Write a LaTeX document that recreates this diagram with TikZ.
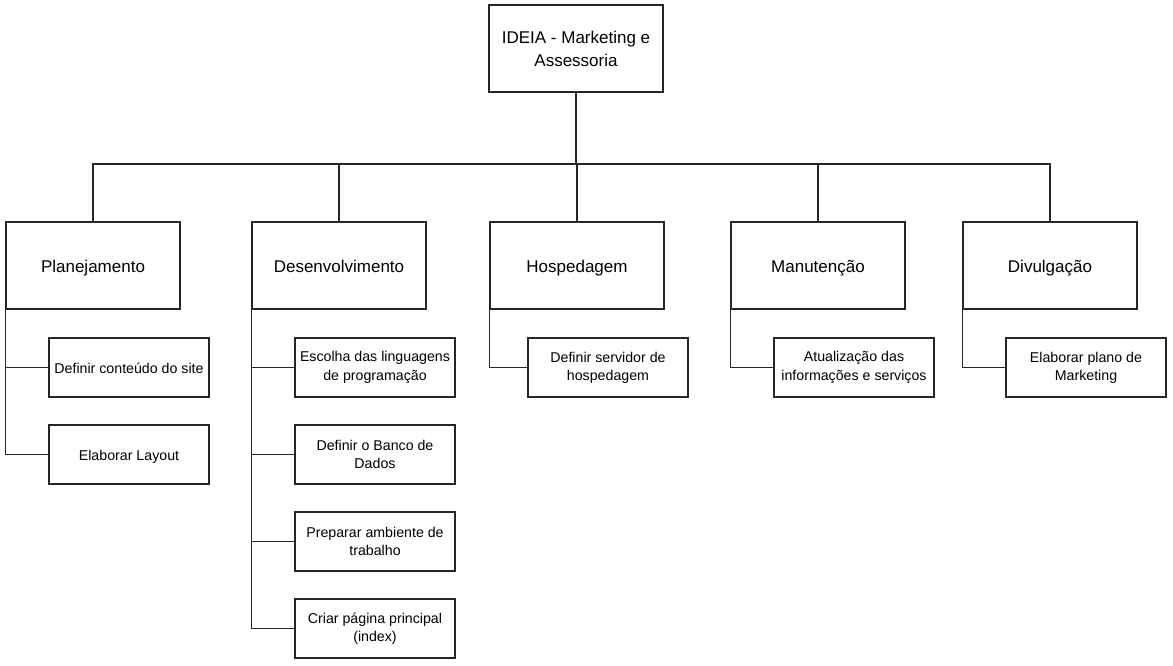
\documentclass[tikz,border=0pt]{standalone}
\usepackage{fontspec}
\setmainfont{Liberation Sans}
\begin{document}
\begin{tikzpicture}[x=1pt,y=-1pt,
  big/.style={draw=black!85, line width=1.3pt, fill=white, minimum width=174pt, minimum height=87pt, align=center, inner sep=0pt, font=\fontsize{17}{23}\selectfont},
  lvl/.style={big, text height=14.4pt, text depth=0pt},
  small/.style={draw=black!85, line width=1.3pt, fill=white, minimum width=160pt, minimum height=59pt, align=center, inner sep=0pt, font=\fontsize{14.2}{18.3}\selectfont},
  one/.style={small, text height=11pt, text depth=0pt},
  link/.style={draw=black!85, line width=1.3pt}]
\useasboundingbox (0,0) rectangle (1173,666);
% root
\node[big] (root) at (576,48.5) {IDEIA - Marketing e\\Assessoria};
% level 1
\node[lvl] (plan) at (93,265.5) {Planejamento};
\node[lvl] (dev) at (339,265.5) {Desenvolvimento};
\node[lvl] (hosp) at (577,265.5) {Hospedagem};
\node[lvl] (man) at (818,265.5) {Manutenção};
\node[lvl] (div) at (1050,265.5) {Divulgação};
% children
\node[one] (p1) at (129,367.5) {Definir conteúdo do site};
\node[one] (p2) at (129,454.5) {Elaborar Layout};
\node[small] (d1) at (375,367.5) {Escolha das linguagens\\de programação};
\node[small] (d2) at (375,454.5) {Definir o Banco de\\Dados};
\node[small] (d3) at (375,541.5) {Preparar ambiente de\\trabalho};
\node[small] (d4) at (375,628.5) {Criar página principal\\(index)};
\node[small] (h1) at (608,367.5) {Definir servidor de\\hospedagem};
\node[small] (m1) at (854,367.5) {Atualização das\\informações e serviços};
\node[small] (v1) at (1086,367.5) {Elaborar plano de\\Marketing};
% connectors
\coordinate (bus) at (576,164);
\draw[link] (root.south) -- (bus);
\draw[link] (bus) -| (plan.north);
\draw[link] (bus) -| (dev.north);
\draw[link] (bus) -| (hosp.north);
\draw[link] (bus) -| (man.north);
\draw[link] (bus) -| (div.north);
\draw[link] (plan.south west) |- (p1.west);
\draw[link] (plan.south west) |- (p2.west);
\draw[link] (dev.south west) |- (d1.west);
\draw[link] (dev.south west) |- (d2.west);
\draw[link] (dev.south west) |- (d3.west);
\draw[link] (dev.south west) |- (d4.west);
\draw[link] (hosp.south west) |- (h1.west);
\draw[link] (man.south west) |- (m1.west);
\draw[link] (div.south west) |- (v1.west);
\end{tikzpicture}
\end{document}
